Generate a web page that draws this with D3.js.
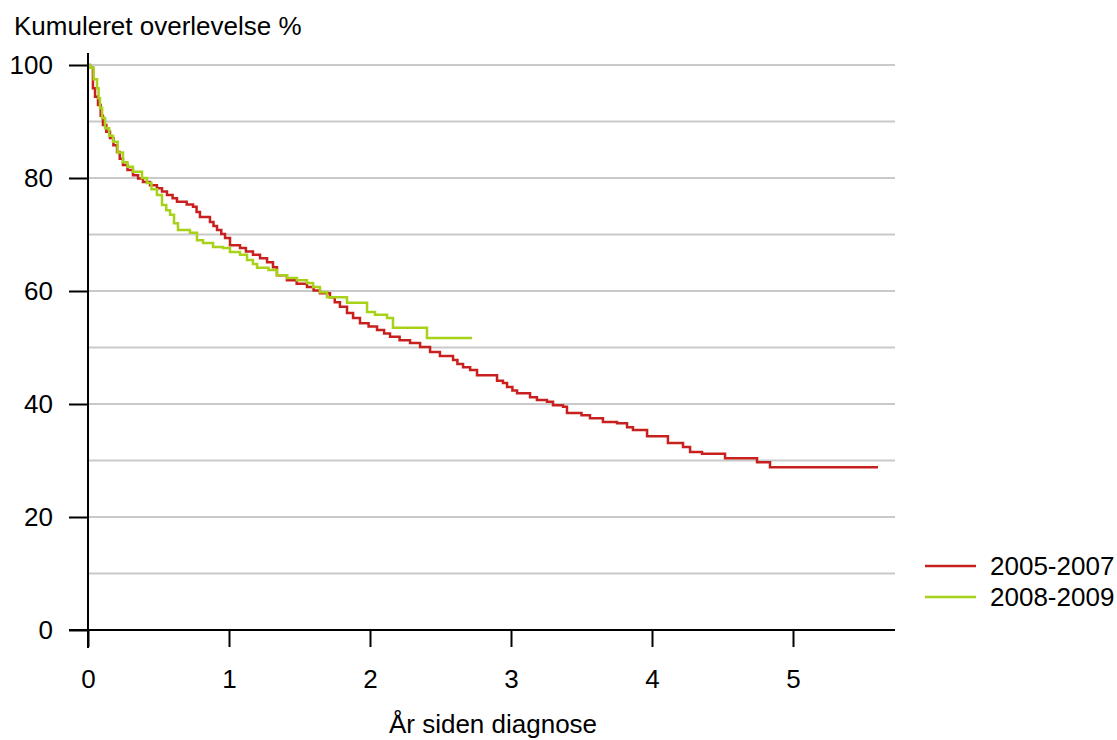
<!DOCTYPE html>
<html>
<head>
<meta charset="utf-8">
<script src="https://cdn.jsdelivr.net/npm/d3@7"></script>
<style>
  html, body { margin: 0; padding: 0; background: #fff; }
  svg { display: block; font-family: "Liberation Sans", Arial, sans-serif; }
</style>
</head>
<body>
<svg id="chart" width="1117" height="740"></svg>
<script>
// Kaplan-Meier survival steps: [years since diagnosis, cumulative survival %]
const period2005_2007 = [
  [0,100],[0.014,99.5],[0.035,95.9],[0.05,94.4],[0.071,92.9],[0.09,91.0],[0.106,89.4],[0.13,88.2],
  [0.156,87.1],[0.18,85.8],[0.206,84.6],[0.225,83.4],[0.248,82.3],[0.28,81.4],[0.319,80.5],
  [0.355,79.9],[0.390,79.3],[0.44,78.7],[0.489,78.2],[0.525,77.6],[0.560,77.0],[0.60,76.4],
  [0.631,75.8],[0.70,75.3],[0.745,74.9],[0.77,74.0],[0.794,73.1],[0.865,72.2],[0.89,71.5],[0.915,70.8],
  [0.945,70.1],[0.972,69.4],[1.007,68.1],[1.078,67.6],[1.12,67.0],[1.170,66.4],[1.22,65.8],
  [1.270,65.1],[1.312,64.2],[1.340,62.8],[1.411,61.9],[1.48,61.3],[1.553,60.7],[1.60,60.1],
  [1.645,59.6],[1.716,58.9],[1.75,58.0],[1.787,57.2],[1.837,56.1],[1.88,55.2],[1.929,54.3],
  [1.99,53.7],[2.050,53.1],[2.10,52.5],[2.142,51.9],[2.21,51.3],[2.284,50.8],[2.355,50.1],
  [2.426,49.2],[2.496,48.5],[2.589,47.8],[2.62,47.1],[2.660,46.5],[2.71,46.0],[2.759,45.1],
  [2.901,44.1],[2.943,43.7],[2.972,43.0],[3.01,42.4],[3.043,41.9],[3.135,41.2],[3.184,40.7],
  [3.255,40.4],[3.298,39.8],[3.369,39.5],[3.397,38.4],[3.50,38.0],[3.560,37.5],[3.652,36.8],
  [3.752,36.6],[3.823,35.9],[3.865,35.4],[3.965,34.3],[4.113,33.1],[4.220,32.4],[4.270,31.5],
  [4.355,31.2],[4.518,30.4],[4.745,29.7],[4.837,28.8],[5.603,28.8]
];
const period2008_2009 = [
  [0,100],[0.014,99.5],[0.04,97.5],[0.064,95.9],[0.075,94.1],[0.085,92.4],[0.10,90.6],[0.121,88.8],
  [0.15,87.5],[0.177,86.4],[0.21,84.5],[0.248,82.8],[0.28,82.0],[0.319,81.1],[0.383,80.0],
  [0.418,79.1],[0.45,78.0],[0.489,77.0],[0.525,75.2],[0.555,74.3],[0.582,73.5],[0.61,72.0],[0.638,70.8],
  [0.723,70.3],[0.773,69.0],[0.816,68.5],[0.887,67.8],[0.957,67.6],[1.007,66.9],[1.078,66.4],
  [1.128,65.5],[1.170,64.8],[1.199,64.1],[1.280,63.7],[1.340,62.8],[1.411,62.3],[1.482,61.9],
  [1.553,61.4],[1.596,60.7],[1.645,59.8],[1.695,58.9],[1.837,57.9],[1.979,56.3],[2.035,55.8],
  [2.121,55.2],[2.163,53.5],[2.404,51.7],[2.723,51.7]
];
const seriesNames = ["2005-2007", "2008-2009"];
const seriesColors = ["#c8201e", "#a8d21a"];
const xTicks = [0, 1, 2, 3, 4, 5];
const yTicks = [0, 20, 40, 60, 80, 100];
const yGrid = [10, 20, 30, 40, 50, 60, 70, 80, 90, 100];

const FONT = 26;
const svg = d3.select("#chart");
const x = d3.scaleLinear().domain([0, 1]).range([88, 229]);
const y = d3.scaleLinear().domain([0, 100]).range([630, 65]);
const plotRight = 895;

// horizontal grid lines
svg.append("g").selectAll("line").data(yGrid).join("line")
  .attr("x1", x(0)).attr("x2", plotRight)
  .attr("y1", d => y(d)).attr("y2", d => y(d))
  .attr("stroke", "#c9c9c9").attr("stroke-width", 2);

// survival curves
const line = d3.line().x(d => x(d[0])).y(d => y(d[1])).curve(d3.curveStepAfter);
[period2005_2007, period2008_2009].forEach((s, i) => {
  svg.append("path").datum(s)
    .attr("d", line)
    .attr("fill", "none")
    .attr("stroke", seriesColors[i])
    .attr("stroke-width", 2.5)
    .attr("stroke-linejoin", "miter");
});

// y axis
const yAxis = d3.axisLeft(y).tickValues(yTicks).tickSize(19).tickPadding(16).tickFormat(d3.format("d"));
const gy = svg.append("g").attr("transform", `translate(${x(0)},0)`).call(yAxis);
gy.select(".domain").remove();
gy.append("line").attr("x1", 0).attr("x2", 0).attr("y1", 53).attr("y2", 648)
  .attr("stroke", "#000").attr("stroke-width", 2);
gy.selectAll(".tick line").attr("stroke", "#000").attr("stroke-width", 2);
gy.selectAll(".tick text").attr("font-size", FONT).attr("fill", "#000")
  .attr("font-family", "Liberation Sans, Arial, sans-serif");

// x axis
const xAxis = d3.axisBottom(x).tickValues(xTicks).tickSize(17).tickFormat(d3.format("d"));
const gx = svg.append("g").attr("transform", `translate(0,${y(0)})`).call(xAxis);
gx.select(".domain").remove();
gx.append("line").attr("x1", 69).attr("x2", plotRight).attr("y1", 0).attr("y2", 0)
  .attr("stroke", "#000").attr("stroke-width", 2);
gx.selectAll(".tick line").attr("stroke", "#000").attr("stroke-width", 2);
gx.selectAll(".tick text").attr("font-size", FONT).attr("fill", "#000")
  .attr("font-family", "Liberation Sans, Arial, sans-serif")
  .attr("y", 58).attr("dy", 0);

// axis titles
svg.append("text").attr("x", 14).attr("y", 35)
  .attr("font-size", FONT).attr("fill", "#000")
  .text("Kumuleret overlevelse %");
svg.append("text").attr("x", 493).attr("y", 733)
  .attr("text-anchor", "middle").attr("font-size", FONT).attr("fill", "#000")
  .text("År siden diagnose");

// legend
const legend = svg.append("g");
seriesNames.forEach((name, i) => {
  const ly = 566 + i * 31;
  legend.append("line").attr("x1", 925).attr("x2", 976).attr("y1", ly).attr("y2", ly)
    .attr("stroke", seriesColors[i]).attr("stroke-width", 2.5);
  legend.append("text").attr("x", 990).attr("y", ly).attr("dy", "0.35em")
    .attr("font-size", FONT).attr("fill", "#000").text(name);
});
</script>
</body>
</html>
